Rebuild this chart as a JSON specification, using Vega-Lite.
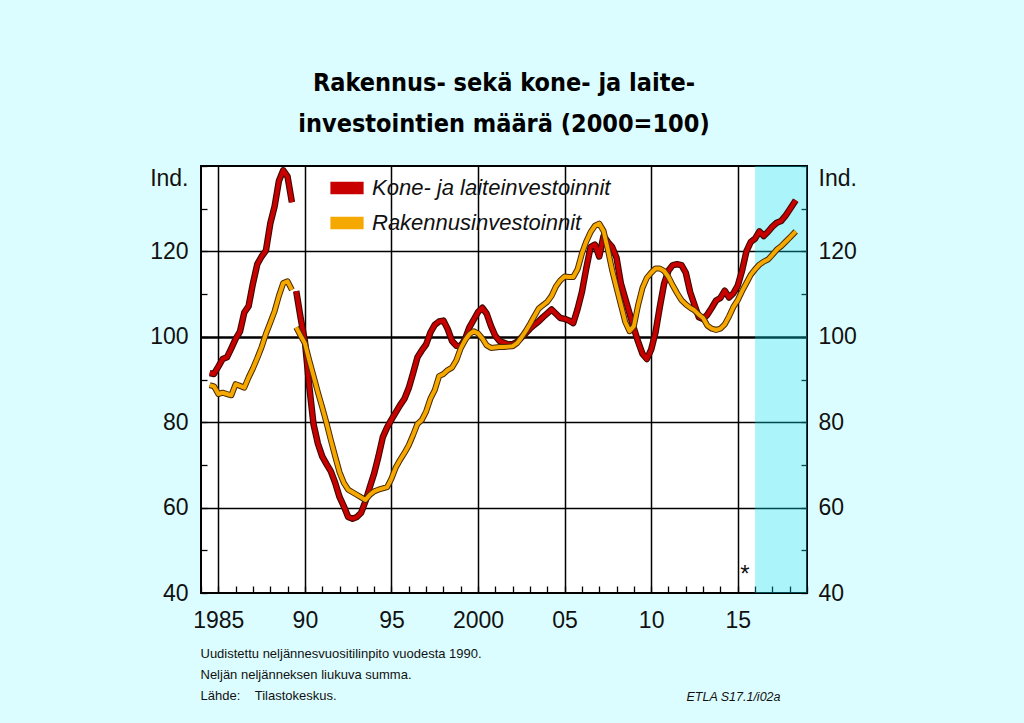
{
  "$schema": "https://vega.github.io/schema/vega-lite/v6.json",
  "width": 606,
  "height": 427,
  "autosize": {"type": "none"},
  "padding": {"left": 201, "top": 166, "right": 217, "bottom": 130},
  "background": "#dcfdff",
  "view": {"fill": "white", "stroke": "black", "strokeWidth": 2},
  "title": {
    "text": ["Rakennus- sekä kone- ja laite-", "investointien määrä (2000=100)"],
    "font": "Liberation Sans Narrow, DejaVu Sans Condensed, sans-serif",
    "fontSize": 25,
    "fontWeight": "bold",
    "lineHeight": 41,
    "anchor": "middle",
    "offset": 18,
    "color": "black"
  },
  "config": {
    "axis": {
      "labelFont": "Liberation Sans",
      "labelFontSize": 23,
      "labelColor": "#111",
      "tickColor": "black",
      "gridColor": "black",
      "titleFont": "Liberation Sans",
      "titleFontWeight": "normal",
      "titleColor": "#111"
    }
  },
  "datasets": {
    "inv": [
      {"seg": 1, "year": 1984.5, "Kone- ja laiteinvestoinnit": 91.5, "Rakennusinvestoinnit": 88.7},
      {"seg": 1, "year": 1984.75, "Kone- ja laiteinvestoinnit": 91.3, "Rakennusinvestoinnit": 88.4},
      {"seg": 1, "year": 1985.0, "Kone- ja laiteinvestoinnit": 93.0, "Rakennusinvestoinnit": 86.6},
      {"seg": 1, "year": 1985.25, "Kone- ja laiteinvestoinnit": 94.8, "Rakennusinvestoinnit": 86.9},
      {"seg": 1, "year": 1985.5, "Kone- ja laiteinvestoinnit": 95.2, "Rakennusinvestoinnit": 86.6},
      {"seg": 1, "year": 1985.75, "Kone- ja laiteinvestoinnit": 97.3, "Rakennusinvestoinnit": 86.3},
      {"seg": 1, "year": 1986.0, "Kone- ja laiteinvestoinnit": 99.5, "Rakennusinvestoinnit": 88.9},
      {"seg": 1, "year": 1986.25, "Kone- ja laiteinvestoinnit": 101.2, "Rakennusinvestoinnit": 88.5},
      {"seg": 1, "year": 1986.5, "Kone- ja laiteinvestoinnit": 105.7, "Rakennusinvestoinnit": 88.1},
      {"seg": 1, "year": 1986.75, "Kone- ja laiteinvestoinnit": 107.2, "Rakennusinvestoinnit": 90.5},
      {"seg": 1, "year": 1987.0, "Kone- ja laiteinvestoinnit": 112.5, "Rakennusinvestoinnit": 92.6},
      {"seg": 1, "year": 1987.25, "Kone- ja laiteinvestoinnit": 117.0, "Rakennusinvestoinnit": 95.0},
      {"seg": 1, "year": 1987.5, "Kone- ja laiteinvestoinnit": 118.8, "Rakennusinvestoinnit": 97.6},
      {"seg": 1, "year": 1987.75, "Kone- ja laiteinvestoinnit": 120.2, "Rakennusinvestoinnit": 100.7},
      {"seg": 1, "year": 1988.0, "Kone- ja laiteinvestoinnit": 126.5, "Rakennusinvestoinnit": 103.3},
      {"seg": 1, "year": 1988.25, "Kone- ja laiteinvestoinnit": 130.5, "Rakennusinvestoinnit": 106.0},
      {"seg": 1, "year": 1988.5, "Kone- ja laiteinvestoinnit": 136.5, "Rakennusinvestoinnit": 109.6},
      {"seg": 1, "year": 1988.75, "Kone- ja laiteinvestoinnit": 139.0, "Rakennusinvestoinnit": 112.6},
      {"seg": 1, "year": 1989.0, "Kone- ja laiteinvestoinnit": 137.5, "Rakennusinvestoinnit": 113.0},
      {"seg": 1, "year": 1989.25, "Kone- ja laiteinvestoinnit": 131.5, "Rakennusinvestoinnit": 111.0},
      {"seg": 2, "year": 1989.5, "Kone- ja laiteinvestoinnit": 110.7, "Rakennusinvestoinnit": 102.2},
      {"seg": 2, "year": 1989.75, "Kone- ja laiteinvestoinnit": 104.5, "Rakennusinvestoinnit": 100.3},
      {"seg": 2, "year": 1990.0, "Kone- ja laiteinvestoinnit": 99.0, "Rakennusinvestoinnit": 98.5},
      {"seg": 2, "year": 1990.25, "Kone- ja laiteinvestoinnit": 88.5, "Rakennusinvestoinnit": 94.5},
      {"seg": 2, "year": 1990.5, "Kone- ja laiteinvestoinnit": 79.5, "Rakennusinvestoinnit": 90.8},
      {"seg": 2, "year": 1990.75, "Kone- ja laiteinvestoinnit": 75.0, "Rakennusinvestoinnit": 87.0},
      {"seg": 2, "year": 1991.0, "Kone- ja laiteinvestoinnit": 72.0, "Rakennusinvestoinnit": 83.5},
      {"seg": 2, "year": 1991.25, "Kone- ja laiteinvestoinnit": 70.2, "Rakennusinvestoinnit": 79.8},
      {"seg": 2, "year": 1991.5, "Kone- ja laiteinvestoinnit": 68.5, "Rakennusinvestoinnit": 75.8},
      {"seg": 2, "year": 1991.75, "Kone- ja laiteinvestoinnit": 65.8, "Rakennusinvestoinnit": 72.0},
      {"seg": 2, "year": 1992.0, "Kone- ja laiteinvestoinnit": 62.5, "Rakennusinvestoinnit": 68.3},
      {"seg": 2, "year": 1992.25, "Kone- ja laiteinvestoinnit": 60.3, "Rakennusinvestoinnit": 65.8},
      {"seg": 2, "year": 1992.5, "Kone- ja laiteinvestoinnit": 57.8, "Rakennusinvestoinnit": 64.2},
      {"seg": 2, "year": 1992.75, "Kone- ja laiteinvestoinnit": 57.4, "Rakennusinvestoinnit": 63.6},
      {"seg": 2, "year": 1993.0, "Kone- ja laiteinvestoinnit": 57.8, "Rakennusinvestoinnit": 63.0},
      {"seg": 2, "year": 1993.25, "Kone- ja laiteinvestoinnit": 58.8, "Rakennusinvestoinnit": 62.4},
      {"seg": 2, "year": 1993.5, "Kone- ja laiteinvestoinnit": 61.5, "Rakennusinvestoinnit": 61.8},
      {"seg": 2, "year": 1993.75, "Kone- ja laiteinvestoinnit": 64.8, "Rakennusinvestoinnit": 63.0},
      {"seg": 2, "year": 1994.0, "Kone- ja laiteinvestoinnit": 68.0, "Rakennusinvestoinnit": 63.8},
      {"seg": 2, "year": 1994.25, "Kone- ja laiteinvestoinnit": 72.0, "Rakennusinvestoinnit": 64.2},
      {"seg": 2, "year": 1994.5, "Kone- ja laiteinvestoinnit": 76.5, "Rakennusinvestoinnit": 64.5},
      {"seg": 2, "year": 1994.75, "Kone- ja laiteinvestoinnit": 78.8, "Rakennusinvestoinnit": 64.8},
      {"seg": 2, "year": 1995.0, "Kone- ja laiteinvestoinnit": 80.6, "Rakennusinvestoinnit": 66.8},
      {"seg": 2, "year": 1995.25, "Kone- ja laiteinvestoinnit": 82.3, "Rakennusinvestoinnit": 69.4},
      {"seg": 2, "year": 1995.5, "Kone- ja laiteinvestoinnit": 84.0, "Rakennusinvestoinnit": 71.2},
      {"seg": 2, "year": 1995.75, "Kone- ja laiteinvestoinnit": 85.5, "Rakennusinvestoinnit": 72.8},
      {"seg": 2, "year": 1996.0, "Kone- ja laiteinvestoinnit": 88.0, "Rakennusinvestoinnit": 74.6},
      {"seg": 2, "year": 1996.25, "Kone- ja laiteinvestoinnit": 91.5, "Rakennusinvestoinnit": 77.0},
      {"seg": 2, "year": 1996.5, "Kone- ja laiteinvestoinnit": 95.2, "Rakennusinvestoinnit": 79.6},
      {"seg": 2, "year": 1996.75, "Kone- ja laiteinvestoinnit": 96.8, "Rakennusinvestoinnit": 80.5},
      {"seg": 2, "year": 1997.0, "Kone- ja laiteinvestoinnit": 98.2, "Rakennusinvestoinnit": 82.5},
      {"seg": 2, "year": 1997.25, "Kone- ja laiteinvestoinnit": 101.0, "Rakennusinvestoinnit": 85.5},
      {"seg": 2, "year": 1997.5, "Kone- ja laiteinvestoinnit": 102.8, "Rakennusinvestoinnit": 87.5},
      {"seg": 2, "year": 1997.75, "Kone- ja laiteinvestoinnit": 103.6, "Rakennusinvestoinnit": 90.8},
      {"seg": 2, "year": 1998.0, "Kone- ja laiteinvestoinnit": 103.8, "Rakennusinvestoinnit": 91.3},
      {"seg": 2, "year": 1998.25, "Kone- ja laiteinvestoinnit": 101.8, "Rakennusinvestoinnit": 92.2},
      {"seg": 2, "year": 1998.5, "Kone- ja laiteinvestoinnit": 99.0, "Rakennusinvestoinnit": 92.8},
      {"seg": 2, "year": 1998.75, "Kone- ja laiteinvestoinnit": 97.9, "Rakennusinvestoinnit": 94.5},
      {"seg": 2, "year": 1999.0, "Kone- ja laiteinvestoinnit": 97.8, "Rakennusinvestoinnit": 97.3},
      {"seg": 2, "year": 1999.25, "Kone- ja laiteinvestoinnit": 99.5, "Rakennusinvestoinnit": 99.2},
      {"seg": 2, "year": 1999.5, "Kone- ja laiteinvestoinnit": 102.2, "Rakennusinvestoinnit": 100.6},
      {"seg": 2, "year": 1999.75, "Kone- ja laiteinvestoinnit": 104.0, "Rakennusinvestoinnit": 101.3},
      {"seg": 2, "year": 2000.0, "Kone- ja laiteinvestoinnit": 105.8, "Rakennusinvestoinnit": 100.8},
      {"seg": 2, "year": 2000.25, "Kone- ja laiteinvestoinnit": 106.8, "Rakennusinvestoinnit": 99.6},
      {"seg": 2, "year": 2000.5, "Kone- ja laiteinvestoinnit": 105.4, "Rakennusinvestoinnit": 98.0},
      {"seg": 2, "year": 2000.75, "Kone- ja laiteinvestoinnit": 102.5, "Rakennusinvestoinnit": 97.4},
      {"seg": 2, "year": 2001.0, "Kone- ja laiteinvestoinnit": 100.2, "Rakennusinvestoinnit": 97.5},
      {"seg": 2, "year": 2001.25, "Kone- ja laiteinvestoinnit": 99.0, "Rakennusinvestoinnit": 97.6},
      {"seg": 2, "year": 2001.5, "Kone- ja laiteinvestoinnit": 98.6, "Rakennusinvestoinnit": 97.6},
      {"seg": 2, "year": 2001.75, "Kone- ja laiteinvestoinnit": 98.2, "Rakennusinvestoinnit": 97.7},
      {"seg": 2, "year": 2002.0, "Kone- ja laiteinvestoinnit": 98.3, "Rakennusinvestoinnit": 97.8},
      {"seg": 2, "year": 2002.25, "Kone- ja laiteinvestoinnit": 98.8, "Rakennusinvestoinnit": 98.5},
      {"seg": 2, "year": 2002.5, "Kone- ja laiteinvestoinnit": 99.8, "Rakennusinvestoinnit": 99.8},
      {"seg": 2, "year": 2002.75, "Kone- ja laiteinvestoinnit": 100.8, "Rakennusinvestoinnit": 101.3},
      {"seg": 2, "year": 2003.0, "Kone- ja laiteinvestoinnit": 101.9, "Rakennusinvestoinnit": 103.0},
      {"seg": 2, "year": 2003.25, "Kone- ja laiteinvestoinnit": 102.8, "Rakennusinvestoinnit": 104.8},
      {"seg": 2, "year": 2003.5, "Kone- ja laiteinvestoinnit": 103.6, "Rakennusinvestoinnit": 106.6},
      {"seg": 2, "year": 2003.75, "Kone- ja laiteinvestoinnit": 104.6, "Rakennusinvestoinnit": 107.4},
      {"seg": 2, "year": 2004.0, "Kone- ja laiteinvestoinnit": 105.5, "Rakennusinvestoinnit": 108.2},
      {"seg": 2, "year": 2004.25, "Kone- ja laiteinvestoinnit": 106.4, "Rakennusinvestoinnit": 109.6},
      {"seg": 2, "year": 2004.5, "Kone- ja laiteinvestoinnit": 105.4, "Rakennusinvestoinnit": 111.8},
      {"seg": 2, "year": 2004.75, "Kone- ja laiteinvestoinnit": 104.4, "Rakennusinvestoinnit": 113.2},
      {"seg": 2, "year": 2005.0, "Kone- ja laiteinvestoinnit": 104.2, "Rakennusinvestoinnit": 114.1},
      {"seg": 2, "year": 2005.25, "Kone- ja laiteinvestoinnit": 103.8, "Rakennusinvestoinnit": 114.0},
      {"seg": 2, "year": 2005.5, "Kone- ja laiteinvestoinnit": 103.2, "Rakennusinvestoinnit": 114.0},
      {"seg": 2, "year": 2005.75, "Kone- ja laiteinvestoinnit": 106.5, "Rakennusinvestoinnit": 115.8},
      {"seg": 2, "year": 2006.0, "Kone- ja laiteinvestoinnit": 110.5, "Rakennusinvestoinnit": 119.5},
      {"seg": 2, "year": 2006.25, "Kone- ja laiteinvestoinnit": 116.0, "Rakennusinvestoinnit": 122.3},
      {"seg": 2, "year": 2006.5, "Kone- ja laiteinvestoinnit": 121.0, "Rakennusinvestoinnit": 124.5},
      {"seg": 2, "year": 2006.75, "Kone- ja laiteinvestoinnit": 121.6, "Rakennusinvestoinnit": 126.0},
      {"seg": 2, "year": 2007.0, "Kone- ja laiteinvestoinnit": 118.8, "Rakennusinvestoinnit": 126.5},
      {"seg": 2, "year": 2007.25, "Kone- ja laiteinvestoinnit": 123.6, "Rakennusinvestoinnit": 124.8},
      {"seg": 2, "year": 2007.5, "Kone- ja laiteinvestoinnit": 122.2, "Rakennusinvestoinnit": 120.4},
      {"seg": 2, "year": 2007.75, "Kone- ja laiteinvestoinnit": 121.0, "Rakennusinvestoinnit": 115.5},
      {"seg": 2, "year": 2008.0, "Kone- ja laiteinvestoinnit": 118.5, "Rakennusinvestoinnit": 111.5},
      {"seg": 2, "year": 2008.25, "Kone- ja laiteinvestoinnit": 112.5, "Rakennusinvestoinnit": 107.5},
      {"seg": 2, "year": 2008.5, "Kone- ja laiteinvestoinnit": 109.0, "Rakennusinvestoinnit": 103.5},
      {"seg": 2, "year": 2008.75, "Kone- ja laiteinvestoinnit": 105.5, "Rakennusinvestoinnit": 101.3},
      {"seg": 2, "year": 2009.0, "Kone- ja laiteinvestoinnit": 102.0, "Rakennusinvestoinnit": 102.5},
      {"seg": 2, "year": 2009.25, "Kone- ja laiteinvestoinnit": 98.8, "Rakennusinvestoinnit": 107.5},
      {"seg": 2, "year": 2009.5, "Kone- ja laiteinvestoinnit": 96.0, "Rakennusinvestoinnit": 111.5},
      {"seg": 2, "year": 2009.75, "Kone- ja laiteinvestoinnit": 94.8, "Rakennusinvestoinnit": 113.8},
      {"seg": 2, "year": 2010.0, "Kone- ja laiteinvestoinnit": 97.0, "Rakennusinvestoinnit": 115.0},
      {"seg": 2, "year": 2010.25, "Kone- ja laiteinvestoinnit": 101.0, "Rakennusinvestoinnit": 116.0},
      {"seg": 2, "year": 2010.5, "Kone- ja laiteinvestoinnit": 107.0, "Rakennusinvestoinnit": 116.0},
      {"seg": 2, "year": 2010.75, "Kone- ja laiteinvestoinnit": 112.5, "Rakennusinvestoinnit": 115.4},
      {"seg": 2, "year": 2011.0, "Kone- ja laiteinvestoinnit": 115.5, "Rakennusinvestoinnit": 114.0},
      {"seg": 2, "year": 2011.25, "Kone- ja laiteinvestoinnit": 116.8, "Rakennusinvestoinnit": 112.0},
      {"seg": 2, "year": 2011.5, "Kone- ja laiteinvestoinnit": 117.0, "Rakennusinvestoinnit": 110.2},
      {"seg": 2, "year": 2011.75, "Kone- ja laiteinvestoinnit": 116.8, "Rakennusinvestoinnit": 108.6},
      {"seg": 2, "year": 2012.0, "Kone- ja laiteinvestoinnit": 115.0, "Rakennusinvestoinnit": 107.6},
      {"seg": 2, "year": 2012.25, "Kone- ja laiteinvestoinnit": 110.5, "Rakennusinvestoinnit": 106.8},
      {"seg": 2, "year": 2012.5, "Kone- ja laiteinvestoinnit": 107.5, "Rakennusinvestoinnit": 106.2},
      {"seg": 2, "year": 2012.75, "Kone- ja laiteinvestoinnit": 104.6, "Rakennusinvestoinnit": 105.2},
      {"seg": 2, "year": 2013.0, "Kone- ja laiteinvestoinnit": 104.2, "Rakennusinvestoinnit": 104.4},
      {"seg": 2, "year": 2013.25, "Kone- ja laiteinvestoinnit": 105.2, "Rakennusinvestoinnit": 102.6},
      {"seg": 2, "year": 2013.5, "Kone- ja laiteinvestoinnit": 106.8, "Rakennusinvestoinnit": 101.9},
      {"seg": 2, "year": 2013.75, "Kone- ja laiteinvestoinnit": 108.5, "Rakennusinvestoinnit": 101.6},
      {"seg": 2, "year": 2014.0, "Kone- ja laiteinvestoinnit": 109.1, "Rakennusinvestoinnit": 101.9},
      {"seg": 2, "year": 2014.25, "Kone- ja laiteinvestoinnit": 110.8, "Rakennusinvestoinnit": 102.9},
      {"seg": 2, "year": 2014.5, "Kone- ja laiteinvestoinnit": 109.2, "Rakennusinvestoinnit": 104.8},
      {"seg": 2, "year": 2014.75, "Kone- ja laiteinvestoinnit": 110.2, "Rakennusinvestoinnit": 107.0},
      {"seg": 2, "year": 2015.0, "Kone- ja laiteinvestoinnit": 112.0, "Rakennusinvestoinnit": 108.6},
      {"seg": 2, "year": 2015.25, "Kone- ja laiteinvestoinnit": 115.5, "Rakennusinvestoinnit": 110.7},
      {"seg": 2, "year": 2015.5, "Kone- ja laiteinvestoinnit": 120.0, "Rakennusinvestoinnit": 112.6},
      {"seg": 2, "year": 2015.75, "Kone- ja laiteinvestoinnit": 122.2, "Rakennusinvestoinnit": 114.5},
      {"seg": 2, "year": 2016.0, "Kone- ja laiteinvestoinnit": 123.0, "Rakennusinvestoinnit": 115.8},
      {"seg": 2, "year": 2016.25, "Kone- ja laiteinvestoinnit": 124.7, "Rakennusinvestoinnit": 116.9},
      {"seg": 2, "year": 2016.5, "Kone- ja laiteinvestoinnit": 123.6, "Rakennusinvestoinnit": 117.6},
      {"seg": 2, "year": 2016.75, "Kone- ja laiteinvestoinnit": 124.6, "Rakennusinvestoinnit": 118.1},
      {"seg": 2, "year": 2017.0, "Kone- ja laiteinvestoinnit": 125.8, "Rakennusinvestoinnit": 119.2},
      {"seg": 2, "year": 2017.25, "Kone- ja laiteinvestoinnit": 126.7, "Rakennusinvestoinnit": 120.4},
      {"seg": 2, "year": 2017.5, "Kone- ja laiteinvestoinnit": 127.1, "Rakennusinvestoinnit": 121.2},
      {"seg": 2, "year": 2017.75, "Kone- ja laiteinvestoinnit": 128.3, "Rakennusinvestoinnit": 122.2},
      {"seg": 2, "year": 2018.0, "Kone- ja laiteinvestoinnit": 129.8, "Rakennusinvestoinnit": 123.2},
      {"seg": 2, "year": 2018.35, "Kone- ja laiteinvestoinnit": 132.0, "Rakennusinvestoinnit": 124.7}
    ]
  },
  "resolve": {"axis": {"x": "independent", "y": "independent"}},
  "layer": [
    {
      "data": {"values": [{"start": 2016, "end": 2019}]},
      "mark": {"type": "rect", "fill": "#00e1f0", "fillOpacity": 0.33},
      "encoding": {
        "x": {
          "field": "start", "type": "quantitative",
          "scale": {"domain": [1984, 2019], "nice": false, "zero": false},
          "axis": {
            "orient": "bottom",
            "values": [1984,1985,1986,1987,1988,1989,1990,1991,1992,1993,1994,1995,1996,1997,1998,1999,2000,2001,2002,2003,2004,2005,2006,2007,2008,2009,2010,2011,2012,2013,2014,2015,2016,2017,2018,2019],
            "format": "d",
            "labelExpr": "datum.value % 5 == 0 && datum.value <= 2015 ? ((datum.value == 1985 || datum.value == 2000) ? datum.label : substring(datum.label, 2)) : ''",
            "labelOverlap": false,
            "labelFlush": false,
            "labelBound": false,
            "domain": false,
            "tickSize": -7,
            "tickWidth": 1.3,
            "labelPadding": 23,
            "grid": true,
            "gridWidth": 1.5,
            "gridOpacity": {"condition": {"test": "datum.value % 5 == 0 && datum.value <= 2015", "value": 1}, "value": 0},
            "title": ["Uudistettu neljännesvuositilinpito vuodesta 1990.", "Neljän neljänneksen liukuva summa.", "Lähde:\u00a0\u00a0\u00a0\u00a0Tilastokeskus."],
            "titleAnchor": "start",
            "titleAlign": "left",
            "titleBaseline": "top",
            "titleX": -1,
            "titleY": 54,
            "titleFontSize": 13,
            "titleLineHeight": 21
          }
        },
        "x2": {"field": "end"}
      }
    },
    {
      "data": {"name": "inv"},
      "transform": [
        {"fold": ["Kone- ja laiteinvestoinnit", "Rakennusinvestoinnit"], "as": ["series", "value"]},
        {"filter": "datum.series == 'Kone- ja laiteinvestoinnit'"}
      ],
      "mark": {"type": "line", "stroke": "#3a0800", "strokeWidth": 6.5, "strokeJoin": "round"},
      "encoding": {
        "x": {"field": "year", "type": "quantitative", "scale": {"domain": [1984, 2019], "nice": false, "zero": false}, "axis": null},
        "y": {
          "field": "value", "type": "quantitative",
          "scale": {"domain": [40, 140], "nice": false, "zero": false},
          "axis": {
            "orient": "left",
            "values": [40,50,60,70,80,90,100,110,120,130,140],
            "format": "d",
            "labelExpr": "datum.value % 20 == 0 && datum.value < 140 ? datum.label : ''",
            "labelOverlap": false,
            "labelFlush": false,
            "labelBound": false,
            "domain": false,
            "tickSize": -6,
            "tickWidth": 1.3,
            "labelPadding": 19,
            "grid": true,
            "gridOpacity": {"condition": {"test": "datum.value % 20 == 0 && datum.value > 40 && datum.value < 140", "value": 1}, "value": 0},
            "gridWidth": {"condition": {"test": "datum.value == 100", "value": 2.3}, "value": 1.5},
            "title": "Ind.",
            "titleAngle": 0,
            "titleAlign": "right",
            "titleBaseline": "middle",
            "titleX": -13,
            "titleY": 12,
            "titleFontSize": 23
          }
        },
        "detail": {"field": "seg", "type": "nominal"}
      }
    },
    {
      "data": {"name": "inv"},
      "transform": [
        {"fold": ["Kone- ja laiteinvestoinnit", "Rakennusinvestoinnit"], "as": ["series", "value"]},
        {"filter": "datum.series == 'Kone- ja laiteinvestoinnit'"}
      ],
      "mark": {"type": "line", "strokeWidth": 4.3, "strokeJoin": "round"},
      "encoding": {
        "x": {
          "field": "year", "type": "quantitative",
          "scale": {"domain": [1984, 2019], "nice": false, "zero": false},
          "axis": {
            "orient": "bottom",
            "labels": false, "ticks": false, "domain": false, "grid": false,
            "title": "ETLA S17.1/i02a",
            "titleAlign": "right",
            "titleAnchor": "end",
            "titleBaseline": "top",
            "titleX": 579,
            "titleY": 97,
            "titleFontSize": 12.5,
            "titleFontStyle": "italic"
          }
        },
        "y": {
          "field": "value", "type": "quantitative",
          "scale": {"domain": [40, 140], "nice": false, "zero": false},
          "axis": {
            "orient": "right",
            "values": [40,50,60,70,80,90,100,110,120,130,140],
            "format": "d",
            "labelExpr": "datum.value % 20 == 0 && datum.value < 140 ? datum.label : ''",
            "labelOverlap": false,
            "labelFlush": false,
            "labelBound": false,
            "domain": false,
            "tickSize": -6,
            "tickWidth": 1.3,
            "labelPadding": 17,
            "grid": false,
            "title": "Ind.",
            "titleAngle": 0,
            "titleAlign": "left",
            "titleBaseline": "middle",
            "titleX": 11,
            "titleY": 12,
            "titleFontSize": 23
          }
        },
        "color": {
          "field": "series", "type": "nominal",
          "scale": {"domain": ["Kone- ja laiteinvestoinnit", "Rakennusinvestoinnit"], "range": ["#c80000", "#f5a800"]},
          "legend": {
            "orient": "none",
            "legendX": 129,
            "legendY": 5,
            "title": null,
            "padding": 0,
            "symbolType": "M-1,-0.35H1V0.35H-1Z",
            "symbolSize": 1024,
            "labelFont": "Liberation Sans",
            "labelFontSize": 22,
            "labelFontStyle": "italic",
            "labelColor": "#111",
            "labelOffset": 8,
            "labelLimit": 400,
            "rowPadding": 7,
            "encode": {
              "symbols": {
                "update": {
                  "fill": {"scale": "color", "field": "value"},
                  "fillOpacity": {"value": 1},
                  "stroke": {"value": "#3a0800"},
                  "strokeWidth": {"value": 1.2},
                  "opacity": {"value": 1}
                }
              }
            }
          }
        },
        "detail": {"field": "seg", "type": "nominal"}
      }
    },
    {
      "data": {"name": "inv"},
      "transform": [
        {"fold": ["Kone- ja laiteinvestoinnit", "Rakennusinvestoinnit"], "as": ["series", "value"]},
        {"filter": "datum.series == 'Rakennusinvestoinnit'"}
      ],
      "mark": {"type": "line", "stroke": "#4a2800", "strokeWidth": 6, "strokeJoin": "round"},
      "encoding": {
        "x": {"field": "year", "type": "quantitative", "scale": {"domain": [1984, 2019], "nice": false, "zero": false}, "axis": null},
        "y": {"field": "value", "type": "quantitative", "scale": {"domain": [40, 140], "nice": false, "zero": false}, "axis": null},
        "detail": {"field": "seg", "type": "nominal"}
      }
    },
    {
      "data": {"name": "inv"},
      "transform": [
        {"fold": ["Kone- ja laiteinvestoinnit", "Rakennusinvestoinnit"], "as": ["series", "value"]},
        {"filter": "datum.series == 'Rakennusinvestoinnit'"}
      ],
      "mark": {"type": "line", "strokeWidth": 4, "strokeJoin": "round"},
      "encoding": {
        "x": {"field": "year", "type": "quantitative", "scale": {"domain": [1984, 2019], "nice": false, "zero": false}, "axis": null},
        "y": {"field": "value", "type": "quantitative", "scale": {"domain": [40, 140], "nice": false, "zero": false}, "axis": null},
        "color": {"field": "series", "type": "nominal", "scale": {"domain": ["Kone- ja laiteinvestoinnit", "Rakennusinvestoinnit"], "range": ["#c80000", "#f5a800"]}},
        "detail": {"field": "seg", "type": "nominal"}
      }
    },
    {
      "data": {"values": [{"year": 2015.42, "value": 44.3, "note": "*"}]},
      "mark": {"type": "text", "font": "Liberation Sans", "fontSize": 24, "color": "#111", "baseline": "middle"},
      "encoding": {
        "x": {"field": "year", "type": "quantitative", "scale": {"domain": [1984, 2019], "nice": false, "zero": false}, "axis": null},
        "y": {"field": "value", "type": "quantitative", "scale": {"domain": [40, 140], "nice": false, "zero": false}, "axis": null},
        "text": {"field": "note"}
      }
    }
  ]
}
